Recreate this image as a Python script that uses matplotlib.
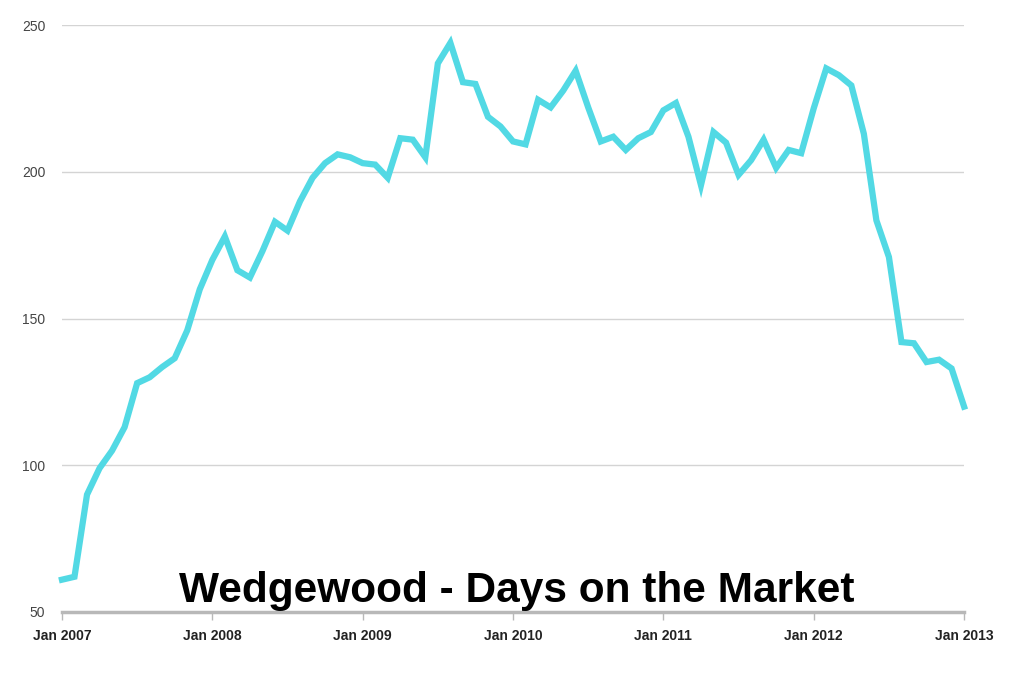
import matplotlib
matplotlib.use('Agg')
import matplotlib.pyplot as plt
import numpy as np

# monthly days on market, Jan 2007 .. Jan 2013
days = [61, 62, 90, 99, 105, 113, 128, 130, 133.5, 136.5, 146, 160,
        170, 178, 166.5, 164, 173, 183, 180, 190, 198, 203, 206, 205,
        203, 202.5, 198, 211.5, 211, 205, 237, 244, 230.6, 230, 218.8, 215.5,
        210.4, 209.4, 224.6, 222, 227.7, 234.5, 222, 210.4, 212, 207.5, 211.5, 213.6,
        221, 223.5, 212, 195.5, 213.6, 210, 199, 204, 211, 201.4, 207.5, 206.4,
        221.7, 235.3, 233, 229.5, 213, 183.5, 171, 142, 141.6, 135.2, 136, 133,
        120]
year_labels = ['Jan 2007', 'Jan 2008', 'Jan 2009', 'Jan 2010',
               'Jan 2011', 'Jan 2012', 'Jan 2013']
y_ticks = [50, 100, 150, 200, 250]

months = np.arange(len(days))

fig = plt.figure(figsize=(10.24, 6.83), dpi=100)
ax = fig.add_axes([0.0605, 0.104, 0.881, 0.859])

ax.plot(months, days, color='#52D9E4', linewidth=4.5, solid_joinstyle='miter',
        zorder=3, clip_on=False)

ax.set_xlim(0, 72)
ax.set_ylim(50, 250)
ax.set_yticks(y_ticks)
ax.set_xticks(np.arange(0, 73, 12))
ax.set_xticklabels(year_labels, fontsize=10, fontweight='bold', color='#222222',
                   family='Liberation Sans')
ax.set_yticklabels([str(v) for v in y_ticks], fontsize=10, color='#444444',
                   family='Liberation Sans')

ax.yaxis.grid(True, color='#d4d4d4', linewidth=1)
ax.set_axisbelow(True)
for side in ['top', 'right', 'left']:
    ax.spines[side].set_visible(False)
ax.spines['bottom'].set_color('#b8b8b8')
ax.spines['bottom'].set_linewidth(2.5)
ax.tick_params(axis='y', length=0, pad=12)
ax.tick_params(axis='x', length=6, width=1, color='#b8b8b8', pad=6)

ax.text(36.3, 53.5, 'Wedgewood - Days on the Market', ha='center', va='baseline',
        fontsize=30.5, fontweight='bold', family='Liberation Sans', color='black')

fig.savefig('out.png', dpi=100)
